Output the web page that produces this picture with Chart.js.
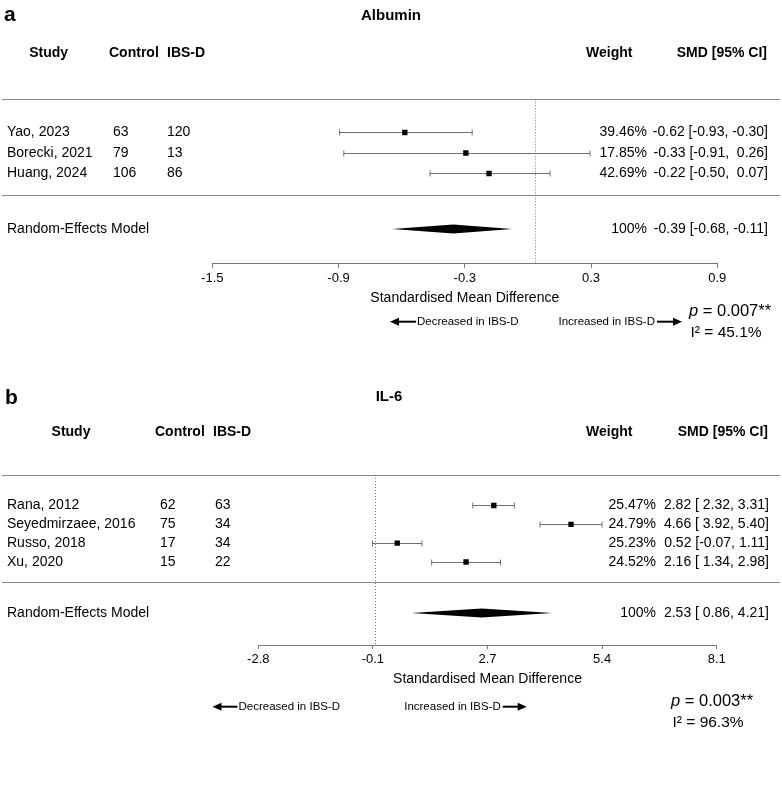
<!DOCTYPE html>
<html>
<head>
<meta charset="utf-8">
<script src="https://cdn.jsdelivr.net/npm/chart.js@4.4.1/dist/chart.umd.min.js"></script>
<style>
  html, body { margin: 0; padding: 0; background: #fff; }
  #wrap { position: relative; width: 782px; height: 806px; }
  .panel { position: absolute; left: 0; width: 782px; }
</style>
</head>
<body>
<div id="wrap">
  <div class="panel" style="top:0;height:380px"><canvas id="albuminChart" width="782" height="380"></canvas></div>
  <div class="panel" style="top:380px;height:426px"><canvas id="il6Chart" width="782" height="426"></canvas></div>
</div>
<script>
// ---- Albumin (panel a) ----
const albStudies = ['Yao, 2023', 'Borecki, 2021', 'Huang, 2024'];
const albControl = [63, 79, 106];
const albIbsd = [120, 13, 86];
const albSmd = [-0.62, -0.33, -0.22];
const albLower = [-0.93, -0.91, -0.50];
const albUpper = [-0.30, 0.26, 0.07];
const albWeight = [39.46, 17.85, 42.69];
const albPooled = [-0.39, -0.68, -0.11];   // estimate, lower, upper
const albTicks = [-1.535, -0.935, -0.335, 0.265, 0.865];
const albTickLabels = ['-1.5', '-0.9', '-0.3', '0.3', '0.9'];
const albP = '0.007**';
const albI2 = '45.1%';

// ---- IL-6 (panel b) ----
const il6Studies = ['Rana, 2012', 'Seyedmirzaee, 2016', 'Russo, 2018', 'Xu, 2020'];
const il6Control = [62, 75, 17, 15];
const il6Ibsd = [63, 34, 34, 22];
const il6Smd = [2.82, 4.66, 0.52, 2.16];
const il6Lower = [2.32, 3.92, -0.07, 1.34];
const il6Upper = [3.31, 5.40, 1.11, 2.98];
const il6Weight = [25.47, 24.79, 25.23, 24.52];
const il6Pooled = [2.53, 0.86, 4.21];
const il6Ticks = [-2.79, -0.06, 2.67, 5.40, 8.13];
const il6TickLabels = ['-2.8', '-0.1', '2.7', '5.4', '8.1'];
const il6P = '0.003**';
const il6I2 = '96.3%';

const FONT = '"Liberation Sans", Arial, Helvetica, sans-serif';
Chart.defaults.font.family = FONT;
Chart.defaults.color = '#000';

// pad a column of numbers to a common width, like R's formatC
function fmtCol(vals) {
  const s = vals.map(v => v.toFixed(2));
  const w = Math.max(...s.map(t => t.length));
  return s.map(t => t.padStart(w, ' '));
}

function drawArrow(ctx, xTail, xHead, y) {
  const dir = Math.sign(xHead - xTail);
  ctx.lineWidth = 2;
  ctx.beginPath();
  ctx.moveTo(xTail, y);
  ctx.lineTo(xHead - dir * 6, y);
  ctx.stroke();
  ctx.beginPath();
  ctx.moveTo(xHead, y);
  ctx.lineTo(xHead - dir * 9, y - 4);
  ctx.lineTo(xHead - dir * 9, y + 4);
  ctx.closePath();
  ctx.fill();
}

const forestPlugin = {
  id: 'forest',
  beforeDatasetsDraw(chart, args, o) {
    const ctx = chart.ctx;
    const xs = chart.scales.x, ys = chart.scales.y;
    const area = chart.chartArea;
    ctx.save();

    // horizontal rules
    ctx.strokeStyle = '#8a8a8a';
    ctx.lineWidth = 1.2;
    [o.rows.top, o.rows.sep].forEach(r => {
      const py = Math.round(ys.getPixelForValue(r)) + 0.5;
      ctx.beginPath();
      ctx.moveTo(2, py);
      ctx.lineTo(780, py);
      ctx.stroke();
    });

    // no-effect line
    const zx = Math.round(xs.getPixelForValue(0)) + 0.5;
    ctx.strokeStyle = '#777';
    ctx.lineWidth = 1;
    ctx.setLineDash([1, 2]);
    ctx.beginPath();
    ctx.moveTo(zx, area.top);
    ctx.lineTo(zx, area.bottom);
    ctx.stroke();
    ctx.setLineDash([]);

    // confidence intervals
    ctx.strokeStyle = '#707070';
    ctx.lineWidth = 1;
    o.lower.forEach((lo, i) => {
      const py = Math.round(ys.getPixelForValue(i + 1)) + 0.5;
      const x1 = xs.getPixelForValue(lo);
      const x2 = xs.getPixelForValue(o.upper[i]);
      ctx.beginPath();
      ctx.moveTo(x1, py); ctx.lineTo(x2, py);
      ctx.moveTo(x1, py - 3); ctx.lineTo(x1, py + 3);
      ctx.moveTo(x2, py - 3); ctx.lineTo(x2, py + 3);
      ctx.stroke();
    });

    // pooled diamond
    const dy = ys.getPixelForValue(o.rows.re);
    ctx.fillStyle = '#000';
    ctx.beginPath();
    ctx.moveTo(xs.getPixelForValue(o.pooled[1]), dy);
    ctx.lineTo(xs.getPixelForValue(o.pooled[0]), dy - 4.5);
    ctx.lineTo(xs.getPixelForValue(o.pooled[2]), dy);
    ctx.lineTo(xs.getPixelForValue(o.pooled[0]), dy + 4.5);
    ctx.closePath();
    ctx.fill();
    ctx.restore();
  },
  afterDraw(chart, args, o) {
    const ctx = chart.ctx;
    const ys = chart.scales.y;
    const L = o.layout;
    ctx.save();
    ctx.fillStyle = '#000';
    ctx.strokeStyle = '#000';
    ctx.textBaseline = 'middle';

    // panel letter and title
    ctx.font = 'bold 21px ' + FONT;
    ctx.textAlign = 'left';
    ctx.fillText(o.letter, L.letterX, L.letterY);
    ctx.font = 'bold 15px ' + FONT;
    ctx.textAlign = 'center';
    ctx.fillText(o.title, L.titleX, L.titleY);

    // column headers
    ctx.font = 'bold 14px ' + FONT;
    ctx.textAlign = 'center';
    ctx.fillText('Study', L.studyHead, L.headY);
    ctx.textAlign = 'left';
    ctx.fillText('Control', L.ctrlHead, L.headY);
    ctx.fillText('IBS-D', L.ibsHead, L.headY);
    ctx.fillText('Weight', L.weightHead, L.headY);
    ctx.textAlign = 'right';
    ctx.fillText('SMD [95% CI]', L.smdRight, L.headY);

    // study rows
    const est = fmtCol(o.smd.concat([o.pooled[0]]));
    const lo = fmtCol(o.lower.concat([o.pooled[1]]));
    const hi = fmtCol(o.upper.concat([o.pooled[2]]));
    ctx.font = '14px ' + FONT;
    o.studies.forEach((name, i) => {
      const py = ys.getPixelForValue(i + 1);
      ctx.textAlign = 'left';
      ctx.fillText(name, 7, py);
      ctx.fillText(String(o.control[i]), L.ctrlX, py);
      ctx.fillText(String(o.ibsd[i]), L.ibsX, py);
      ctx.textAlign = 'right';
      ctx.fillText(o.weight[i].toFixed(2) + '%', L.weightRight, py);
      ctx.fillText(est[i] + ' [' + lo[i] + ', ' + hi[i] + ']', L.smdRight + 1, py);
    });
    const k = o.studies.length;
    const ry = ys.getPixelForValue(o.rows.re);
    ctx.textAlign = 'left';
    ctx.fillText('Random-Effects Model', 7, ry);
    ctx.textAlign = 'right';
    ctx.fillText('100%', L.weightRight, ry);
    ctx.fillText(est[k] + ' [' + lo[k] + ', ' + hi[k] + ']', L.smdRight + 1, ry);

    // direction arrows
    ctx.font = '11.5px ' + FONT;
    ctx.textAlign = 'left';
    drawArrow(ctx, L.decArrow[1], L.decArrow[0], L.arrowY);
    ctx.fillText('Decreased in IBS-D', L.decArrow[1] + 1, L.arrowY);
    drawArrow(ctx, L.incArrow[0], L.incArrow[1], L.arrowY);
    ctx.textAlign = 'right';
    ctx.fillText('Increased in IBS-D', L.incArrow[0] - 2, L.arrowY);

    // heterogeneity / p value
    ctx.textAlign = 'left';
    ctx.font = 'italic 16.5px ' + FONT;
    ctx.fillText('p', L.statX, L.pY);
    const pw = ctx.measureText('p').width;
    ctx.font = '16.5px ' + FONT;
    ctx.fillText(' = ' + o.p, L.statX + pw, L.pY);
    ctx.font = '15.5px ' + FONT;
    ctx.fillText('I\u00B2 = ' + o.i2, L.statX + 1.5, L.i2Y);
    ctx.restore();
  }
};

function buildForest(canvasId, o) {
  const k = o.studies.length;
  const rows = { top: -0.62, sep: k + 1.04, re: k + 2.71, bottom: k + 4.41 };
  const ctx = document.getElementById(canvasId).getContext('2d');
  return new Chart(ctx, {
    type: 'scatter',
    data: {
      datasets: [{
        data: o.smd.map((v, i) => ({ x: v, y: i + 1 })),
        pointStyle: 'rect',
        pointRadius: 3.8,
        backgroundColor: '#000',
        borderColor: '#000',
        borderWidth: 0
      }]
    },
    options: {
      responsive: false,
      animation: false,
      events: [],
      layout: { padding: o.padding },
      scales: {
        x: {
          type: 'linear',
          min: o.ticks[0],
          max: o.ticks[o.ticks.length - 1],
          afterBuildTicks: scale => { scale.ticks = o.ticks.map(v => ({ value: v })); },
          ticks: {
            autoSkip: false,
            maxRotation: 0,
            padding: 3,
            color: '#000',
            font: { size: 13 },
            callback: (value, index) => o.tickLabels[index]
          },
          grid: { drawOnChartArea: false, drawTicks: true, tickLength: 4, color: '#777' },
          border: { display: true, color: '#777', width: 1 },
          title: {
            display: true,
            text: 'Standardised Mean Difference',
            color: '#000',
            font: { size: 14 },
            padding: { top: 0, bottom: 0 }
          }
        },
        y: { type: 'linear', display: false, reverse: true, min: rows.top, max: rows.bottom }
      },
      plugins: {
        legend: { display: false },
        tooltip: { enabled: false },
        forest: Object.assign({ rows: rows }, o)
      }
    },
    plugins: [forestPlugin]
  });
}

buildForest('albuminChart', {
  letter: 'a', title: 'Albumin',
  studies: albStudies, control: albControl, ibsd: albIbsd,
  smd: albSmd, lower: albLower, upper: albUpper, weight: albWeight,
  pooled: albPooled, ticks: albTicks, tickLabels: albTickLabels,
  p: albP, i2: albI2,
  padding: { top: 99.3, left: 212.3, right: 64.7, bottom: 73.8 },
  layout: {
    letterX: 4, letterY: 15, titleX: 391, titleY: 16,
    headY: 53, studyHead: 48.7, ctrlHead: 109, ibsHead: 167, weightHead: 586,
    ctrlX: 113, ibsX: 167, weightRight: 647, smdRight: 767,
    arrowY: 321.7, decArrow: [390, 416], incArrow: [657, 682],
    statX: 689, pY: 311.7, i2Y: 333
  }
});

buildForest('il6Chart', {
  letter: 'b', title: 'IL-6',
  studies: il6Studies, control: il6Control, ibsd: il6Ibsd,
  smd: il6Smd, lower: il6Lower, upper: il6Upper, weight: il6Weight,
  pooled: il6Pooled, ticks: il6Ticks, tickLabels: il6TickLabels,
  p: il6P, i2: il6I2,
  padding: { top: 95, left: 258.3, right: 65.3, bottom: 118.6 },
  layout: {
    letterX: 5, letterY: 18, titleX: 389, titleY: 17,
    headY: 52, studyHead: 71, ctrlHead: 155, ibsHead: 213, weightHead: 586,
    ctrlX: 160, ibsX: 215, weightRight: 656, smdRight: 768,
    arrowY: 326.7, decArrow: [212.5, 237.5], incArrow: [502.7, 526.7],
    statX: 671, pY: 321, i2Y: 343
  }
});
</script>
</body>
</html>
